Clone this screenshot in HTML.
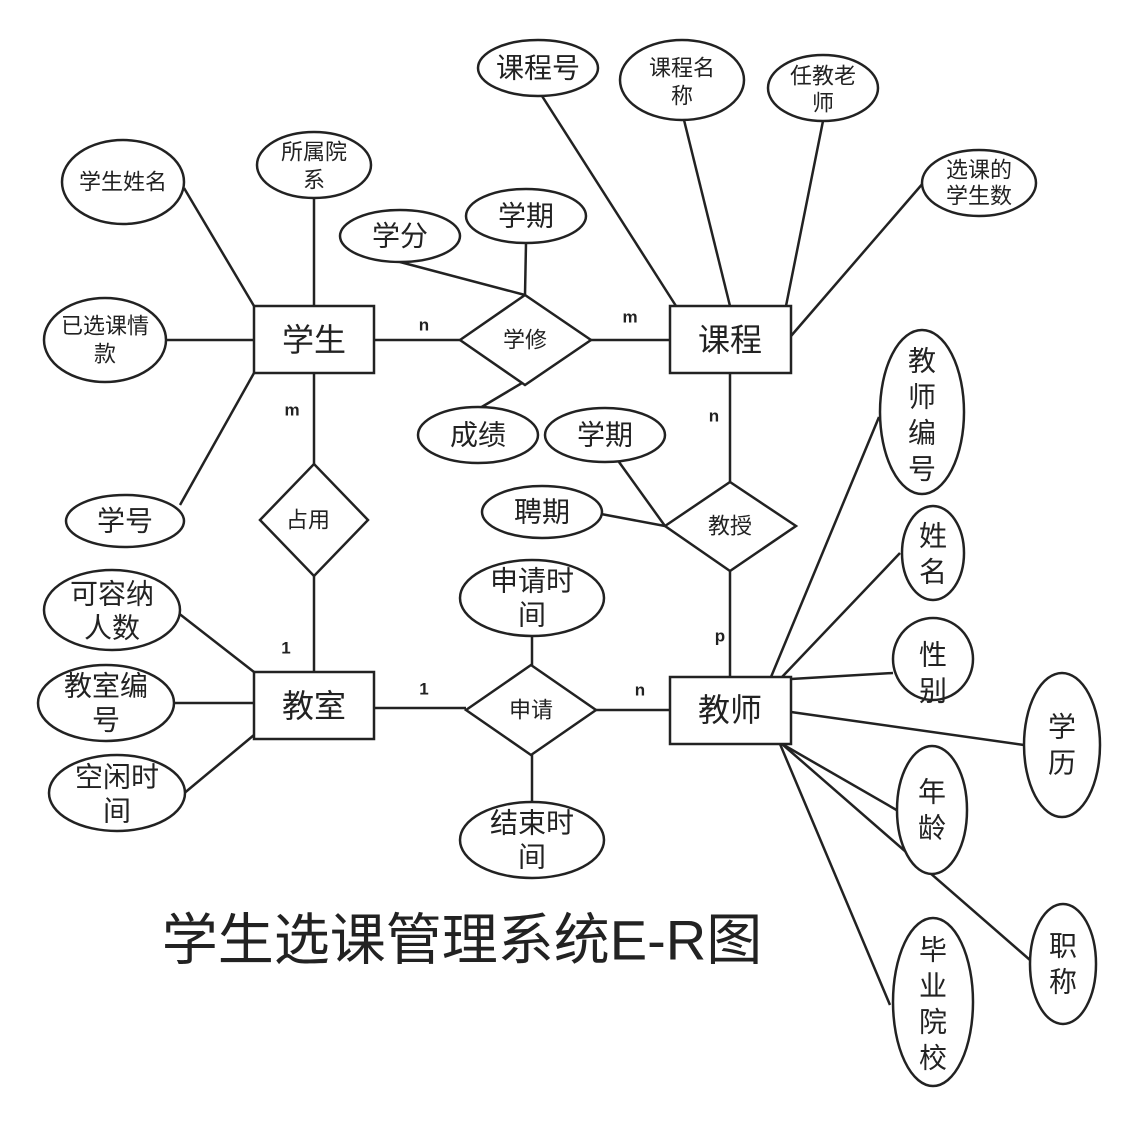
<!DOCTYPE html>
<html><head><meta charset="utf-8"><style>
html,body{margin:0;padding:0;background:#fff;}
svg{display:block;}
text{font-family:"Liberation Sans","Noto Sans CJK SC",sans-serif;fill:#222;text-anchor:middle;dominant-baseline:central;}
.b{font-weight:bold;font-size:17px;}
</style></head><body>
<svg width="1134" height="1126" viewBox="0 0 1134 1126" xmlns="http://www.w3.org/2000/svg">
<g stroke="#222" stroke-width="2.5" fill="none">
<line x1="374" y1="340" x2="460" y2="340"/>
<line x1="591" y1="340" x2="670" y2="340"/>
<line x1="400" y1="262" x2="525" y2="295"/>
<line x1="526" y1="243" x2="525" y2="295"/>
<line x1="480" y1="408" x2="522" y2="383"/>
<line x1="314" y1="373" x2="314" y2="464"/>
<line x1="314" y1="576" x2="314" y2="672"/>
<line x1="730" y1="373" x2="730" y2="482"/>
<line x1="730" y1="571" x2="730" y2="677"/>
<line x1="619" y1="462" x2="665" y2="526"/>
<line x1="601" y1="514" x2="665" y2="526"/>
<line x1="374" y1="708" x2="466" y2="708"/>
<line x1="596" y1="710" x2="670" y2="710"/>
<line x1="532" y1="637" x2="532" y2="665"/>
<line x1="532" y1="755" x2="532" y2="803"/>
<line x1="184" y1="188" x2="254" y2="306"/>
<line x1="314" y1="198" x2="314" y2="306"/>
<line x1="166" y1="340" x2="254" y2="340"/>
<line x1="180" y1="505" x2="254" y2="373"/>
<line x1="542" y1="96" x2="676" y2="306"/>
<line x1="684" y1="120" x2="730" y2="306"/>
<line x1="823" y1="121" x2="786" y2="306"/>
<line x1="924" y1="182" x2="791" y2="336"/>
<line x1="177" y1="612" x2="254" y2="672"/>
<line x1="174" y1="703" x2="254" y2="703"/>
<line x1="182" y1="795" x2="254" y2="735"/>
<line x1="771" y1="677" x2="879" y2="417"/>
<line x1="782" y1="677" x2="900" y2="553"/>
<line x1="791" y1="679" x2="893" y2="673"/>
<line x1="791" y1="712" x2="1024" y2="745"/>
<line x1="782" y1="744" x2="900" y2="812"/>
<line x1="782" y1="744" x2="1030" y2="960"/>
<line x1="780" y1="744" x2="890" y2="1005"/>
</g>
<g stroke="#222" stroke-width="2.5" fill="#fff">
<rect x="254" y="306" width="120" height="67"/>
<rect x="670" y="306" width="121" height="67"/>
<rect x="254" y="672" width="120" height="67"/>
<rect x="670" y="677" width="121" height="67"/>
<polygon points="460,340 525,295 591,340 525,385"/>
<polygon points="260,520 314,464 368,520 314,576"/>
<polygon points="665,526 730,482 796,526 730,571"/>
<polygon points="466,710 531,665 596,710 531,755"/>
<ellipse cx="538" cy="68" rx="60" ry="28"/>
<ellipse cx="682" cy="80" rx="62" ry="40"/>
<ellipse cx="823" cy="88" rx="55" ry="33"/>
<ellipse cx="979" cy="183" rx="57" ry="33"/>
<ellipse cx="123" cy="182" rx="61" ry="42"/>
<ellipse cx="314" cy="165" rx="57" ry="33"/>
<ellipse cx="400" cy="236" rx="60" ry="26"/>
<ellipse cx="526" cy="216" rx="60" ry="27"/>
<ellipse cx="105" cy="340" rx="61" ry="42"/>
<ellipse cx="125" cy="521" rx="59" ry="26"/>
<ellipse cx="478" cy="435" rx="60" ry="28"/>
<ellipse cx="605" cy="435" rx="60" ry="27"/>
<ellipse cx="542" cy="512" rx="60" ry="26"/>
<ellipse cx="922" cy="412" rx="42" ry="82"/>
<ellipse cx="933" cy="553" rx="31" ry="47"/>
<ellipse cx="933" cy="659" rx="40" ry="41"/>
<ellipse cx="1062" cy="745" rx="38" ry="72"/>
<ellipse cx="932" cy="810" rx="35" ry="64"/>
<ellipse cx="1063" cy="964" rx="33" ry="60"/>
<ellipse cx="933" cy="1002" rx="40" ry="84"/>
<ellipse cx="532" cy="598" rx="72" ry="38"/>
<ellipse cx="532" cy="840" rx="72" ry="38"/>
<ellipse cx="112" cy="610" rx="68" ry="40"/>
<ellipse cx="106" cy="703" rx="68" ry="38"/>
<ellipse cx="117" cy="793" rx="68" ry="38"/>
</g>
<g font-size="32">
<text x="314" y="340">学生</text>
<text x="730" y="340">课程</text>
<text x="314" y="706">教室</text>
<text x="730" y="710">教师</text>
</g>
<g font-size="22">
<text x="525" y="340">学修</text>
<text x="308" y="520">占用</text>
<text x="730" y="526">教授</text>
<text x="531" y="710">申请</text>
<text x="123" y="182">学生姓名</text>
<text x="314" y="152">所属院</text><text x="314" y="180">系</text>
<text x="105" y="326">已选课情</text><text x="105" y="354">款</text>
<text x="682" y="68">课程名</text><text x="682" y="96">称</text>
<text x="823" y="76">任教老</text><text x="823" y="103">师</text>
<text x="979" y="170">选课的</text><text x="979" y="196">学生数</text>
</g>
<g font-size="28">
<text x="538" y="68">课程号</text>
<text x="400" y="236">学分</text>
<text x="526" y="216">学期</text>
<text x="478" y="435">成绩</text>
<text x="605" y="435">学期</text>
<text x="542" y="512">聘期</text>
<text x="125" y="521">学号</text>
<text x="532" y="581">申请时</text><text x="532" y="615">间</text>
<text x="532" y="823">结束时</text><text x="532" y="857">间</text>
<text x="112" y="594">可容纳</text><text x="112" y="628">人数</text>
<text x="106" y="686">教室编</text><text x="106" y="720">号</text>
<text x="117" y="777">空闲时</text><text x="117" y="811">间</text>
<text x="922" y="361">教</text><text x="922" y="397">师</text><text x="922" y="433">编</text><text x="922" y="469">号</text>
<text x="933" y="536">姓</text><text x="933" y="572">名</text>
<text x="933" y="655">性</text><text x="933" y="691">别</text>
<text x="1062" y="727">学</text><text x="1062" y="763">历</text>
<text x="932" y="792">年</text><text x="932" y="828">龄</text>
<text x="1063" y="946">职</text><text x="1063" y="982">称</text>
<text x="933" y="950">毕</text><text x="933" y="986">业</text><text x="933" y="1022">院</text><text x="933" y="1058">校</text>
</g>
<g class="b">
<text class="b" x="424" y="325">n</text>
<text class="b" x="630" y="317">m</text>
<text class="b" x="292" y="410">m</text>
<text class="b" x="714" y="416">n</text>
<text class="b" x="286" y="648">1</text>
<text class="b" x="424" y="689">1</text>
<text class="b" x="640" y="690">n</text>
<text class="b" x="720" y="636">p</text>
</g>
<text x="462" y="940" font-size="56">学生选课管理系统E-R图</text>
</svg>
</body></html>
